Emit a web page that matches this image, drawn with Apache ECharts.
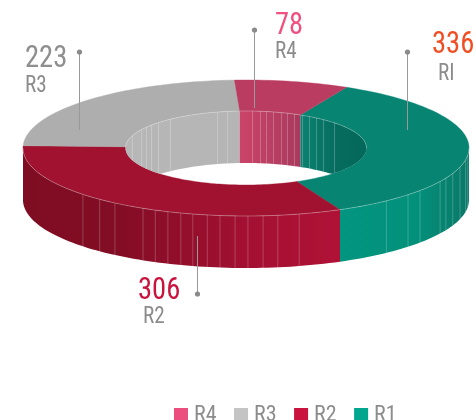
<!DOCTYPE html>
<html>
<head>
<meta charset="utf-8">
<style>html,body{margin:0;padding:0;background:#fff}#c{width:476px;height:420px}</style>
<script src="https://cdn.jsdelivr.net/npm/echarts@6/dist/echarts.min.js"></script>
</head>
<body>
<div id="c"></div>
<script>
// ---- data ----
const names = ['R1', 'R2', 'R3', 'R4'];
const values = [336, 306, 223, 78];
const calloutNames = ['RI', 'R2', 'R3', 'R4'];
const legendOrder = ['R4', 'R3', 'R2', 'R1'];

// ---- geometry of the projected ring ----
const FONT = '"Liberation Sans Narrow","Roboto Condensed",Roboto,sans-serif';
const G = { cx: 246, cy: 148, rx: 223, ry: 68, irx: 120.5, iry: 37, depth: 52, start: 26.8 };
const total = values.reduce((a, b) => a + b, 0);
let acc = G.start;
const spans = values.map(v => { const s = acc; acc += v / total * 360; return [s, acc]; });

const rad = d => d * Math.PI / 180;
const px = (t, rx) => G.cx + rx * Math.sin(rad(t));
const py = (t, ry) => G.cy - ry * Math.cos(rad(t));

// ---- styles ----
const topColors = ['#088473', '#A0122F', '#AEAEAE', '#BA3D61'];
const legendColors = ['#00A78F', '#C8143E', '#C4C4C4', '#EB4F7D'];
const wallStops = [
  [[0, '#02957F'], [0.6, '#03907B'], [1, '#0A7868']],
  [[0, '#7F0D22'], [0.3, '#820D24'], [0.7, '#A31031'], [1, '#B01236']],
  [[0, '#AAAAAA'], [1, '#AAAAAA']],
  [[0, '#B03C60'], [1, '#B03C60']]
];
const innerStops = [
  [[0, '#0C8272'], [0.55, '#056C5E'], [1, '#04685A']],
  [[0, '#A0122F'], [1, '#A0122F']],
  [[0, '#B7B7B7'], [1, '#B5B5B5']],
  [[0, '#CB4469'], [1, '#A83A5E']]
];

function grad(stops, x0, x1) {
  return new echarts.graphic.LinearGradient(x0, 0, x1, 0,
    stops.map(s => ({ offset: s[0], color: s[1] })), true);
}
// overlap of [a,b] with a visible window, trying whole turns
function overlap(a, b, lo, hi) {
  for (const k of [-360, 0, 360]) {
    const s = Math.max(a + k, lo), e = Math.min(b + k, hi);
    if (e > s) return [s, e];
  }
  return null;
}
function steps(a, b) {
  const n = Math.max(2, Math.ceil((b - a) / 1.5)), out = [];
  for (let i = 0; i <= n; i++) out.push(a + (b - a) * i / n);
  return out;
}
function sliceShapes(i) {
  const [a, b] = spans[i], kids = [];
  const ts = steps(a, b);
  // flat top of the ring
  const topPts = ts.map(t => [px(t, G.rx), py(t, G.ry)])
    .concat(ts.slice().reverse().map(t => [px(t, G.irx), py(t, G.iry)]));
  kids.push({ type: 'polygon', shape: { points: topPts },
    style: { fill: topColors[i], stroke: topColors[i], lineWidth: 0.4 } });
  // outer wall, front half
  const f = overlap(a, b, 90, 270);
  if (f) {
    const w = steps(f[0], f[1]);
    const up = w.map(t => [px(t, G.rx), py(t, G.ry)]);
    const dn = up.slice().reverse().map(p => [p[0], p[1] + G.depth]);
    const xs = up.map(p => p[0]);
    kids.push({ type: 'polygon', shape: { points: up.concat(dn) },
      style: { fill: grad(wallStops[i], Math.min(...xs), Math.max(...xs)) } });
    kids.push({ type: 'polyline', shape: { points: up },
      style: { fill: null, stroke: 'rgba(255,255,255,0.42)', lineWidth: 0.7 } });
  }
  // inner wall, back half, cut off by the hole's front rim
  const g = overlap(a, b, -90, 90);
  if (g) {
    const w = steps(g[0], g[1]);
    const up = w.map(t => [px(t, G.irx), py(t, G.iry)]);
    const dn = w.map(t => [px(t, G.irx),
      Math.min(py(t, G.iry) + G.depth, G.cy + G.iry * Math.cos(rad(t)))]).reverse();
    const xs = up.map(p => p[0]);
    kids.push({ type: 'polygon', shape: { points: up.concat(dn) },
      style: { fill: grad(innerStops[i], Math.min(...xs), Math.max(...xs)) } });
    kids.push({ type: 'polyline', shape: { points: up },
      style: { fill: null, stroke: 'rgba(255,255,255,0.45)', lineWidth: 0.6 } });
  }
  return kids;
}

// facet seams seen on the walls (degrees around the ring)
const outerFacets = [39, 46.6, 51.3, 60.5, 63.7, 68, 73.7, 80, 84,
  -47, -41, -36, -27.5, -24, -20.5, -17, -13.8, -10, -6.7, -2.8, 0.5, 4.4, 8.2, 13.8];
const innerFacets = [-70.4, -60, -55.7, -51.6, -46.6, -38.8, -13.7, -8.8,
  3.1, 6.9, 9.8, 13.2, 17.1, 20.1, 23.7, 28, 31.8, 35.8, 40, 47.3];

function facetShapes() {
  const kids = [];
  outerFacets.forEach(o => {
    const t = 180 - o, x = px(t, G.rx), y = py(t, G.ry);
    kids.push({ type: 'line', shape: { x1: x, y1: y, x2: x, y2: y + G.depth },
      style: { stroke: 'rgba(255,255,255,0.28)', lineWidth: 0.8 } });
  });
  innerFacets.forEach(t => {
    const x = px(t, G.irx), y = py(t, G.iry);
    kids.push({ type: 'line', shape: { x1: x, y1: y, x2: x,
      y2: Math.min(y + G.depth, G.cy + G.iry * Math.cos(rad(t))) },
      style: { stroke: 'rgba(255,255,255,0.3)', lineWidth: 0.8 } });
  });
  return kids;
}

// callouts: leader, dot, number, name
const callouts = [
  { x: 407.5, y1: 52, y2: 130, nx: 432, ny: 45, lx: 438, ly: 74, color: '#F04E23' },
  { x: 197.5, y1: 294, y2: 236, nx: 138, ny: 291, lx: 143, ly: 317, color: '#C8143E' },
  { x: 79.5, y1: 52, y2: 130, nx: 25, ny: 59, lx: 25, ly: 86, color: '#8E8E8E' },
  { x: 254.5, y1: 30, y2: 108, nx: 275, ny: 26, lx: 275, ly: 52, color: '#EF5080' }
];
function calloutShapes(i) {
  const c = callouts[i];
  return [
    { type: 'line', shape: { x1: c.x, y1: c.y1, x2: c.x, y2: c.y2 },
      style: { stroke: '#999999', lineWidth: 1 } },
    { type: 'circle', shape: { cx: c.x, cy: c.y1, r: 2.6 }, style: { fill: '#8A8A8A' } },
    { type: 'text', x: c.nx, y: c.ny, scaleX: 0.92, style: { text: String(values[i]), fill: c.color,
      font: '31px ' + FONT, textAlign: 'left', textVerticalAlign: 'middle' } },
    { type: 'text', x: c.lx, y: c.ly, scaleX: 0.92, style: { text: calloutNames[i], fill: '#8C8C8C',
      font: '23px ' + FONT, textAlign: 'left', textVerticalAlign: 'middle' } }
  ];
}

const series = names.map((n, i) => ({
  type: 'custom', name: n, coordinateSystem: 'none', silent: true, z: 2,
  itemStyle: { color: legendColors[i] },
  data: [[values[i]]],
  renderItem: () => ({ type: 'group', children: sliceShapes(i) })
}));
series.push({
  type: 'custom', name: 'seams', coordinateSystem: 'none', silent: true, z: 3,
  data: [[0]],
  renderItem: () => ({ type: 'group', children: facetShapes() })
});
series.push({
  type: 'custom', name: 'callouts', coordinateSystem: 'none', silent: true, z: 4,
  data: values.map(v => [v]),
  renderItem: (p) => ({ type: 'group', children: calloutShapes(p.dataIndex) })
});

const chart = echarts.init(document.getElementById('c'), null, { renderer: 'canvas' });
chart.setOption({
  animation: false,
  backgroundColor: '#fff',
  legend: {
    left: 174, top: 404, padding: 0, itemGap: 17.5, itemWidth: 14, itemHeight: 14,
    icon: 'rect', selectedMode: false,
    textStyle: { fontFamily: FONT, fontSize: 22, color: '#8C8C8C', padding: [0, 0, 0, 1] },
    data: legendOrder.map(n => ({ name: n, itemStyle: { color: legendColors[names.indexOf(n)] } }))
  },
  series
});
</script>
</body>
</html>
